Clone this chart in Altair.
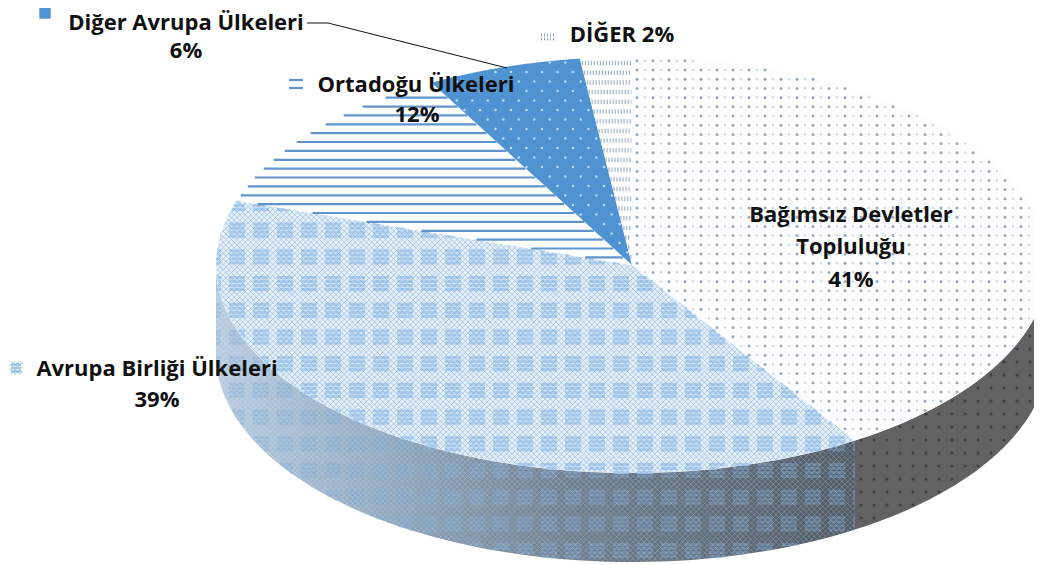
import numpy as np
import pandas as pd
import altair as alt

# ---- values
categories = ["Bağımsız Devletler Topluluğu", "Avrupa Birliği Ülkeleri", "Ortadoğu Ülkeleri", "Diğer Avrupa Ülkeleri", "DİĞER"]
shares = [41, 39, 12, 6, 2]

label_lines = ["Bağımsız Devletler", "Topluluğu", "41%",
               "Avrupa Birliği Ülkeleri", "39%",
               "Ortadoğu Ülkeleri", "12%",
               "Diğer Avrupa Ülkeleri", "6%",
               "DİĞER 2%"]
label_x = [851, 851, 851, 157, 157, 416, 417, 186, 186, 622]
label_y = [215, 247, 280, 369, 400, 85, 115, 23, 51, 35]

# ---- pie geometry (ellipse in page pixels)
CX, CY, A, B, DEPTH = 632, 265, 416, 208, 89
W, H = 1026, 557
xs = alt.Scale(domain=[8, 8 + W], range=[0, W], nice=False, zero=False)
ys = alt.Scale(domain=[8, 8 + H], range=[0, H], nice=False, zero=False)
X = lambda f="x": alt.X(f"{f}:Q", scale=xs, axis=None)
Y = lambda f="y": alt.Y(f"{f}:Q", scale=ys, axis=None)

edges = np.cumsum([0] + shares) / sum(shares) * 2 * np.pi


def rim(t0, t1, n=90, dy=0):
    t = np.linspace(t0, t1, n)
    return np.c_[CX + A * np.sin(t), CY - B * np.cos(t) + dy]


def wedge(i):
    return np.vstack([[[CX, CY]], rim(edges[i], edges[i + 1])])


def side(t0, t1):
    return np.vstack([rim(t0, t1), rim(t0, t1, dy=DEPTH)[::-1]])


def inside(px, py, poly):
    px, py = np.asarray(px, float), np.asarray(py, float)
    res = np.zeros(px.shape, bool)
    x0, y0 = poly[:, 0], poly[:, 1]
    x1, y1 = np.roll(x0, -1), np.roll(y0, -1)
    for a, b, c, d in zip(x0, y0, x1, y1):
        if b == d:
            continue
        cond = ((b > py) != (d > py)) & (px < (c - a) * (py - b) / (d - b) + a)
        res ^= cond
    return res


def segs(p0, p1, polys):
    """Clip the straight line p0-p1 to the polygon."""
    out = []
    n = int(np.hypot(p1[0] - p0[0], p1[1] - p0[1])) + 2
    s = np.linspace(0, 1, n)
    px, py = p0[0] + (p1[0] - p0[0]) * s, p0[1] + (p1[1] - p0[1]) * s
    m = inside(px, py, polys)
    idx = np.flatnonzero(m)
    if len(idx) == 0:
        return out
    for run in np.split(idx, np.flatnonzero(np.diff(idx) > 1) + 1):
        if len(run) > 1:
            out.append(dict(x=round(px[run[0]], 1), y=round(py[run[0]], 1),
                            x2=round(px[run[-1]], 1), y2=round(py[run[-1]], 1)))
    return out


def poly_layer(v, fill, **kw):
    df = pd.DataFrame({"x": v[:, 0], "y": v[:, 1], "i": range(len(v))})
    return alt.Chart(df).mark_line(fill=fill, strokeWidth=0, interpolate="linear-closed", **kw).encode(
        x=X(), y=Y(), order="i:Q")


def rule_layer(rows, **kw):
    df = pd.DataFrame(rows)
    return alt.Chart(df).mark_rule(**kw).encode(
        x=X(), y=Y(), x2="x2:Q", y2="y2:Q")


def pts_layer(v, **kw):
    df = pd.DataFrame({"x": v[:, 0], "y": v[:, 1]})
    return alt.Chart(df).mark_point(filled=True, **kw).encode(x=X(), y=Y())


def grid(x0, dx, y0, dy, poly, stagger=0.0, margin=0.0):
    out = []
    for j in range(int((0 - y0) / dy) - 1, int((600 - y0) / dy) + 1):
        for k in range(int((150 - x0) / dx) - 1, int((1100 - x0) / dx) + 1):
            out.append((x0 + k * dx + (stagger * dx if j % 2 else 0), y0 + j * dy))
    out = np.array(out)
    m = np.ones(len(out), bool)
    for ox, oy in [(-margin, -margin), (margin, -margin), (-margin, margin), (margin, margin)]:
        m &= inside(out[:, 0] + ox, out[:, 1] + oy, poly)
    return out[m]


def lattice(poly, spacing):
    rows = []
    for c in np.arange(-800, 1700, spacing):
        rows += segs((c, 0), (c + 600, 600), poly)
        rows += segs((c + 600, 0), (c, 600), poly)
    return rows


def tiles(poly):
    """Small striped squares, cut at the outline of the region."""
    rows = []
    for j in range(-14, 10):
        yc = 337 + 26.7 * j
        for k in range(-17, 21):
            xc = 573 + 24 * k
            for dy in (-6, -2, 2, 6):
                rows += segs((xc - 8, yc + dy), (xc + 8, yc + dy), poly)
    return rows


layers = []

# ---- side wall
t_mid = edges[1]
wall_a = side(np.pi / 2, t_mid)
wall_b = side(t_mid, 3 * np.pi / 2)
layers.append(poly_layer(wall_a, "#626262"))
layers.append(pts_layer(grid(640, 13, 440, 13, wall_a, margin=1), size=9, color="#2f3a48", opacity=0.8, shape="circle"))

grad = alt.LinearGradient(gradient="linear", x1=0, x2=1, y1=0, y2=0, stops=[
    alt.GradientStop(offset=0, color="#b9cde1"),
    alt.GradientStop(offset=0.25, color="#94abc2"),
    alt.GradientStop(offset=0.55, color="#6e7f90"),
    alt.GradientStop(offset=1, color="#505b66"),
])
layers.append(poly_layer(wall_b, grad))
layers.append(rule_layer(tiles(wall_b), color="#7ea9da", opacity=0.4, strokeWidth=3))
layers.append(rule_layer(lattice(wall_b, 5.5), color="#e6edf3", opacity=0.28, strokeWidth=0.8))

# ---- Bağımsız Devletler
w0 = wedge(0)
layers.append(poly_layer(w0, "#fbfdff"))
g0 = grid(637, 8, 300, 9.2, w0, margin=1)
phase = (np.round((g0[:, 0] - 637) / 8).astype(int)) % 2 == 0
layers.append(pts_layer(g0[phase], size=9, color="#8fa1b8", opacity=0.9, shape="circle"))
layers.append(pts_layer(g0[~phase], size=5, color="#c3cedb", opacity=0.9, shape="circle"))

# ---- Avrupa Birliği
w1 = wedge(1)
layers.append(poly_layer(w1, "#e3effa"))
layers.append(rule_layer(tiles(w1), color="#a3c9ef", opacity=0.85, strokeWidth=3.2))
layers.append(rule_layer(lattice(w1, 5.5), color="#86abce", opacity=0.65, strokeWidth=0.8))

# ---- Ortadoğu
w2 = wedge(2)
layers.append(poly_layer(w2, "#ffffff"))
stripes = []
for y in np.arange(97.7, 262, 8.87):
    stripes += segs((150, y), (700, y), w2)
layers.append(rule_layer(stripes, color="#5f95cc", strokeWidth=2.2))

# ---- Diğer Avrupa
w3 = wedge(3)
layers.append(poly_layer(w3, "#4f93d3"))
layers.append(pts_layer(grid(573, 15.5, 72, 9.5, w3, stagger=0.5, margin=1), size=6, color="#c4e0f7", opacity=0.95, shape="circle"))

# ---- DİĞER
w4 = wedge(4)
layers.append(poly_layer(w4, "#ffffff"))
waves = []
for y in np.arange(63, 262, 9.7):
    waves += segs((560, y), (660, y), w4)
layers.append(rule_layer(waves, color="#8fa5bd", strokeWidth=4.5, strokeDash=[1, 2]))

# ---- leader line
leader = pd.DataFrame({"x": [307, 328, 507], "y": [23, 23, 68], "i": [0, 1, 2]})
layers.append(alt.Chart(leader).mark_line(color="#111111", strokeWidth=1).encode(x=X(), y=Y(), order="i:Q"))

# ---- legend keys beside the labels
key_sq = pd.DataFrame({"x": [45], "y": [13]})
layers.append(alt.Chart(key_sq).mark_point(filled=True, shape="square", size=130, color="#4f93d3", opacity=1).encode(x=X(), y=Y()))
key_lines = pd.DataFrame({"x": [289, 289], "x2": [303, 303], "y": [80, 88], "y2": [80, 88]})
layers.append(rule_layer(key_lines, color="#5f95cc", strokeWidth=2.2))
key_eu_box = np.array([[9.0, 361.0], [23.0, 361.0], [23.0, 375.0], [9.0, 375.0]])
key_eu_rows = [dict(x=11, x2=21, y=y, y2=y) for y in (364.5, 368, 371.5)]
layers.append(rule_layer(key_eu_rows, color="#a3c9ef", strokeWidth=2.6))
layers.append(rule_layer(lattice(key_eu_box, 4.5), color="#8fb3d4", opacity=0.7, strokeWidth=0.8))
key_other = pd.DataFrame({"x": [541, 541], "x2": [555, 555], "y": [35, 39], "y2": [35, 39]})
layers.append(rule_layer(key_other, color="#8fa5bd", strokeWidth=3, strokeDash=[1, 2]))

# ---- labels
labels = pd.DataFrame({"x": label_x, "y": label_y, "t": label_lines})
layers.append(alt.Chart(labels).mark_text(font="Open Sans", fontWeight="bold", fontSize=22, color="#111111",
                                          align="center", baseline="middle").encode(x=X(), y=Y(), text="t:N"))

chart = alt.layer(*layers).properties(
    width=W, height=H, padding=0, autosize=alt.AutoSizeParams(type="none"), background="#ffffff"
).configure_view(stroke=None)

chart.save("out.html", embed_options={"renderer": "svg", "actions": False})
